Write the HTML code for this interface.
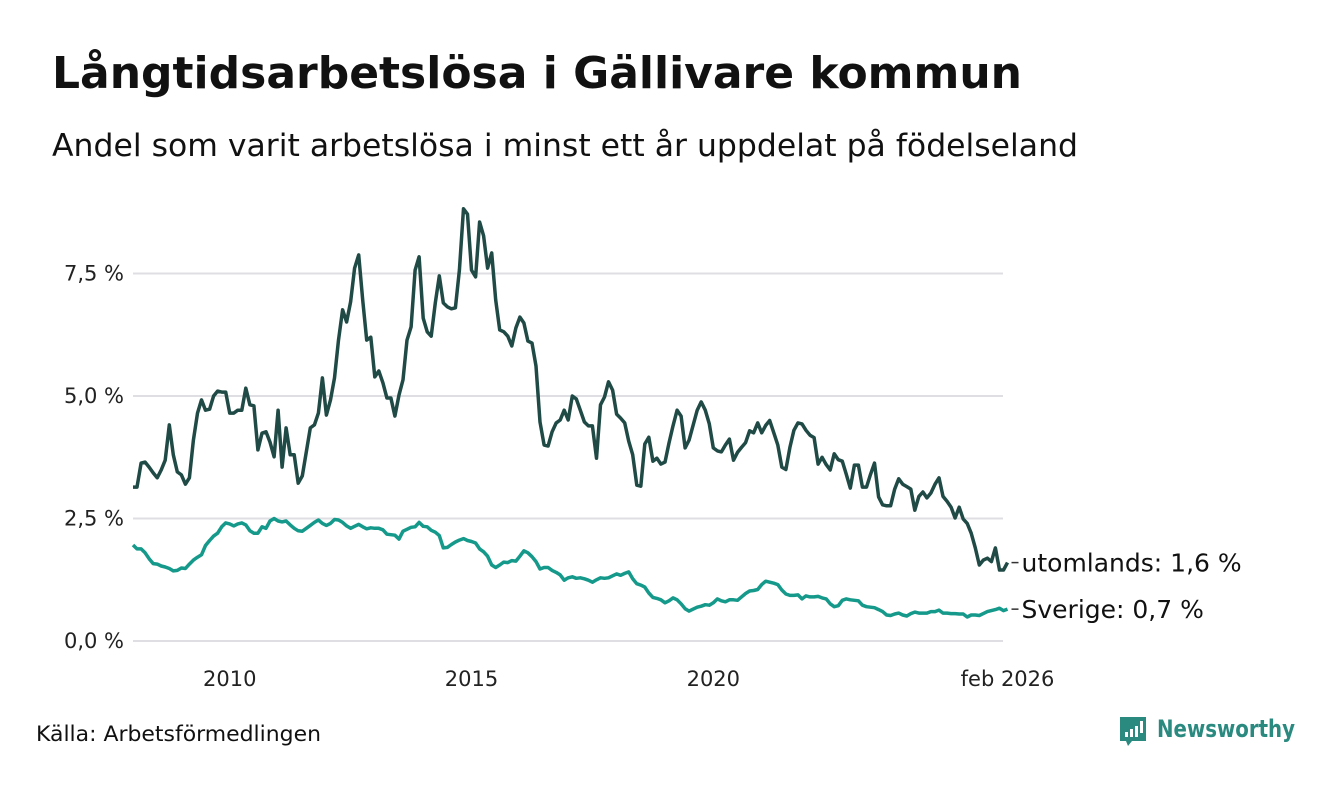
<!DOCTYPE html>
<html><head><meta charset="utf-8">
<style>
body{margin:0;background:#fff;width:1340px;height:780px;overflow:hidden;font-family:"Liberation Sans","DejaVu Sans",sans-serif;}
svg text{font-family:"DejaVu Sans","Liberation Sans",sans-serif;}
</style></head>
<body>
<svg id="chart" width="1340" height="780" xmlns="http://www.w3.org/2000/svg">
<text x="52" y="88" font-size="44" font-weight="bold" fill="#111" textLength="970" lengthAdjust="spacingAndGlyphs">Långtidsarbetslösa i Gällivare kommun</text>
<text x="52" y="156" font-size="31" fill="#111" textLength="1026" lengthAdjust="spacingAndGlyphs">Andel som varit arbetslösa i minst ett år uppdelat på födelseland</text>
<g id="grid"></g>
<g id="yticks"></g>
<g id="xticks"></g>
<g id="lines"></g>
<text x="36" y="741" font-size="21" fill="#111" textLength="285" lengthAdjust="spacingAndGlyphs">Källa: Arbetsförmedlingen</text>
<g>
<path d="M1120 717 h26 v24 h-14 l-4 5 l-2 -5 h-6 z" fill="#2a8a80"/>
<rect x="1125" y="732" width="3" height="5" fill="#fff"/><rect x="1130" y="729" width="3" height="8" fill="#fff"/><rect x="1135" y="726" width="3" height="11" fill="#fff"/><rect x="1140" y="721" width="3" height="12" fill="#fff"/>
<text x="1157" y="737" font-size="24" font-weight="bold" fill="#2a8a80" textLength="138" lengthAdjust="spacingAndGlyphs">Newsworthy</text>
</g>
</svg>
<script>
const yTicks=[0,2.5,5,7.5];
const yTickLabels=["0,0 %","2,5 %","5,0 %","7,5 %"];
const xTickYears=[2010,2015,2020];
const xTickLabels=["2010","2015","2020"];
const startYear=2008, startMonth=0;
const abroad=[3.14,3.14,3.63,3.65,3.55,3.43,3.33,3.49,3.69,4.41,3.8,3.45,3.39,3.2,3.33,4.1,4.65,4.92,4.71,4.73,5.0,5.1,5.08,5.08,4.65,4.65,4.71,4.71,5.16,4.82,4.8,3.9,4.24,4.27,4.06,3.76,4.71,3.55,4.35,3.8,3.8,3.22,3.37,3.86,4.35,4.41,4.65,5.37,4.61,4.92,5.37,6.14,6.76,6.51,6.92,7.61,7.88,6.96,6.14,6.2,5.39,5.51,5.27,4.96,4.96,4.59,5.02,5.33,6.14,6.41,7.57,7.84,6.59,6.31,6.22,6.9,7.45,6.9,6.82,6.78,6.8,7.57,8.82,8.71,7.57,7.43,8.55,8.27,7.61,7.92,6.96,6.35,6.31,6.22,6.02,6.39,6.61,6.49,6.12,6.08,5.61,4.47,4.0,3.98,4.27,4.45,4.51,4.71,4.51,5.0,4.94,4.71,4.47,4.39,4.39,3.73,4.82,4.98,5.29,5.12,4.63,4.55,4.45,4.08,3.8,3.18,3.16,4.02,4.16,3.67,3.73,3.61,3.65,4.04,4.39,4.71,4.59,3.94,4.1,4.41,4.71,4.88,4.71,4.43,3.94,3.88,3.86,4.0,4.12,3.69,3.85,3.95,4.05,4.29,4.25,4.45,4.25,4.4,4.5,4.25,4.0,3.55,3.5,3.95,4.3,4.45,4.43,4.3,4.2,4.15,3.61,3.75,3.6,3.49,3.82,3.7,3.67,3.4,3.12,3.59,3.59,3.14,3.14,3.4,3.63,2.94,2.78,2.76,2.76,3.1,3.31,3.2,3.15,3.1,2.67,2.95,3.04,2.92,3.02,3.2,3.33,2.95,2.85,2.73,2.51,2.73,2.49,2.4,2.2,1.9,1.55,1.65,1.69,1.62,1.9,1.45,1.45,1.6];
const sweden=[1.96,1.88,1.88,1.8,1.68,1.58,1.57,1.53,1.51,1.48,1.43,1.44,1.49,1.48,1.57,1.65,1.71,1.76,1.95,2.05,2.14,2.2,2.33,2.41,2.39,2.35,2.39,2.41,2.37,2.25,2.2,2.2,2.33,2.3,2.45,2.5,2.45,2.43,2.45,2.37,2.3,2.25,2.24,2.3,2.36,2.42,2.47,2.4,2.36,2.4,2.48,2.47,2.42,2.35,2.3,2.34,2.38,2.33,2.29,2.31,2.3,2.3,2.27,2.18,2.17,2.16,2.08,2.24,2.28,2.32,2.33,2.42,2.34,2.33,2.26,2.22,2.15,1.9,1.91,1.97,2.02,2.06,2.09,2.05,2.03,2.0,1.88,1.82,1.73,1.55,1.5,1.55,1.61,1.6,1.64,1.63,1.73,1.84,1.8,1.72,1.62,1.47,1.5,1.5,1.44,1.4,1.35,1.24,1.29,1.31,1.28,1.29,1.27,1.24,1.2,1.25,1.29,1.28,1.29,1.33,1.37,1.34,1.38,1.41,1.27,1.17,1.14,1.1,0.98,0.89,0.87,0.84,0.78,0.82,0.88,0.84,0.76,0.66,0.61,0.65,0.69,0.71,0.74,0.73,0.78,0.86,0.82,0.8,0.84,0.84,0.83,0.9,0.97,1.02,1.03,1.05,1.15,1.22,1.2,1.18,1.15,1.04,0.96,0.93,0.93,0.94,0.86,0.92,0.9,0.9,0.91,0.88,0.86,0.76,0.7,0.72,0.83,0.86,0.84,0.83,0.82,0.73,0.7,0.69,0.68,0.64,0.6,0.53,0.52,0.55,0.57,0.53,0.51,0.56,0.59,0.57,0.57,0.57,0.6,0.6,0.63,0.57,0.57,0.56,0.56,0.55,0.55,0.49,0.53,0.53,0.52,0.56,0.6,0.62,0.64,0.67,0.62,0.65];

const NS="http://www.w3.org/2000/svg";
const X0=133, PXM=4.03, Y0=641, PXU=49;
function xScale(monthIndex){return X0+monthIndex*PXM;}
function xYear(year,month){return xScale((year-startYear)*12+(month-startMonth));}
function yScale(v){return Y0-v*PXU;}
function mk(tag,attrs,parent){const e=document.createElementNS(NS,tag);for(const k in attrs)e.setAttribute(k,attrs[k]);parent.appendChild(e);return e;}

const grid=document.getElementById('grid'), yt=document.getElementById('yticks'), xt=document.getElementById('xticks'), lines=document.getElementById('lines');
yTicks.forEach((v,i)=>{
  const l=mk('line',{x1:133,x2:1003,y1:yScale(v),y2:yScale(v),stroke:'#dfdfe3','stroke-width':2},grid);
  
  
  const t=mk('text',{x:124,y:yScale(v)+7,'text-anchor':'end','font-size':21,fill:'#222'},yt);
  t.textContent=yTickLabels[i];
  
  
});
xTickYears.forEach((yr,i)=>{
  const t=mk('text',{x:xYear(yr,0),y:686,'text-anchor':'middle','font-size':21,fill:'#222'},xt);
  t.textContent=xTickLabels[i];
  
  
});
const lastIdx=abroad.length-1;
const endT=mk('text',{x:xScale(lastIdx),y:686,'text-anchor':'middle','font-size':21,fill:'#222'},xt);
endT.textContent='feb 2026';



function drawLine(arr,color,name){
  const d=arr.map((v,i)=>(i?'L':'M')+xScale(i).toFixed(1)+' '+yScale(v).toFixed(1)).join(' ');
  const p=mk('path',{d:d,fill:'none',stroke:color,'stroke-width':3.5,'stroke-linejoin':'round'},lines);
  
  
}
drawLine(sweden,'#14998a','line-sverige');
drawLine(abroad,'#1f4a45','line-utomlands');

function endLabel(arr,text,name,dy){
  const i=arr.length-1, x=xScale(i), y=yScale(arr[i]);
  mk('line',{x1:x+4,x2:x+11,y1:y,y2:y,stroke:'#333','stroke-width':1.5},lines);
  const t=mk('text',{x:x+14,y:y+9+dy,'font-size':25,fill:'#111'},lines);
  t.textContent=text;
  
  
}
endLabel(abroad,'utomlands: 1,6 %','label-utomlands',0);
endLabel(sweden,'Sverige: 0,7 %','label-sverige',0);
</script>
</body></html>
